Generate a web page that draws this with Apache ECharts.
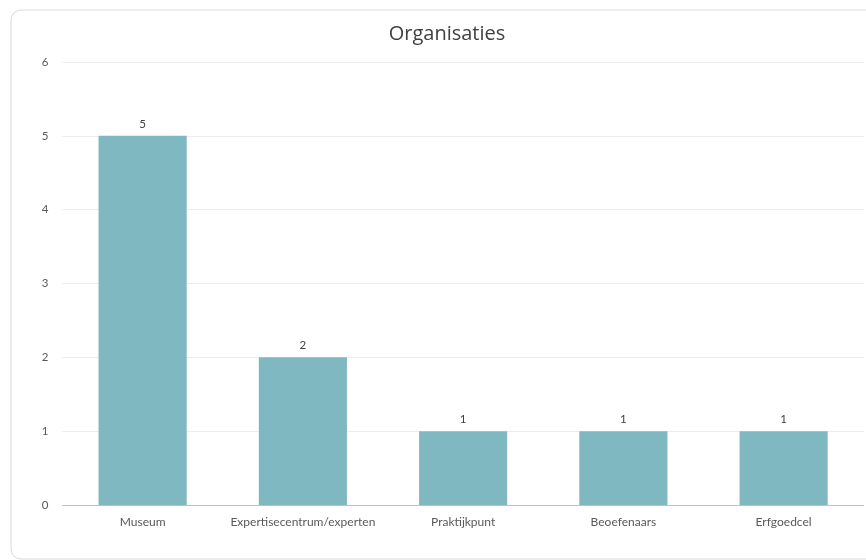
<!DOCTYPE html>
<html>
<head>
<meta charset="utf-8">
<script src="https://cdn.jsdelivr.net/npm/echarts@6/dist/echarts.min.js"></script>
<style>
html,body{margin:0;padding:0;background:#fff;}
#c{width:866px;height:560px;}
</style>
</head>
<body>
<div id="c"></div>
<script>
var titleText = 'Organisaties';
var categories = ['Museum', 'Expertisecentrum/experten', 'Praktijkpunt', 'Beoefenaars', 'Erfgoedcel'];
var values = [5, 2, 1, 1, 1];
var yTicks = {min: 0, max: 6, interval: 1};

var chart = echarts.init(document.getElementById('c'), null, {renderer: 'canvas'});
chart.setOption({
  animation: false,
  backgroundColor: '#fff',
  graphic: [{
    type: 'rect',
    left: 8.5, top: 7.5,
    shape: {width: 880, height: 549, r: 10},
    style: {fill: 'none', stroke: '#d9d9d9', lineWidth: 1},
    z: -1
  }],
  title: {
    text: titleText,
    left: 442, top: 19, textAlign: 'center',
    textStyle: {fontFamily: 'Open Sans', fontSize: 20, fontWeight: 'normal', color: '#404040'}
  },
  grid: {left: 62.5, right: 2.25, top: 62, bottom: 55, containLabel: false},
  xAxis: {
    type: 'category',
    data: categories,
    axisLine: {lineStyle: {color: '#bfbfbf', width: 1}},
    axisTick: {show: false},
    axisLabel: {fontFamily: 'Lato', fontSize: 12, color: '#595959', margin: 11, interval: 0}
  },
  yAxis: {
    type: 'value',
    min: yTicks.min, max: yTicks.max, interval: yTicks.interval,
    axisLine: {show: false},
    axisTick: {show: false},
    splitLine: {lineStyle: {color: '#ececec', width: 1}},
    axisLabel: {fontFamily: 'Lato', fontSize: 11.5, color: '#595959', margin: 14}
  },
  series: [{
    type: 'bar',
    data: values,
    barWidth: '55%',
    itemStyle: {color: '#7fb8c1'},
    label: {show: true, position: 'top', distance: 6, fontFamily: 'Lato', fontSize: 11.5, color: '#404040'}
  }]
});
</script>
</body>
</html>
